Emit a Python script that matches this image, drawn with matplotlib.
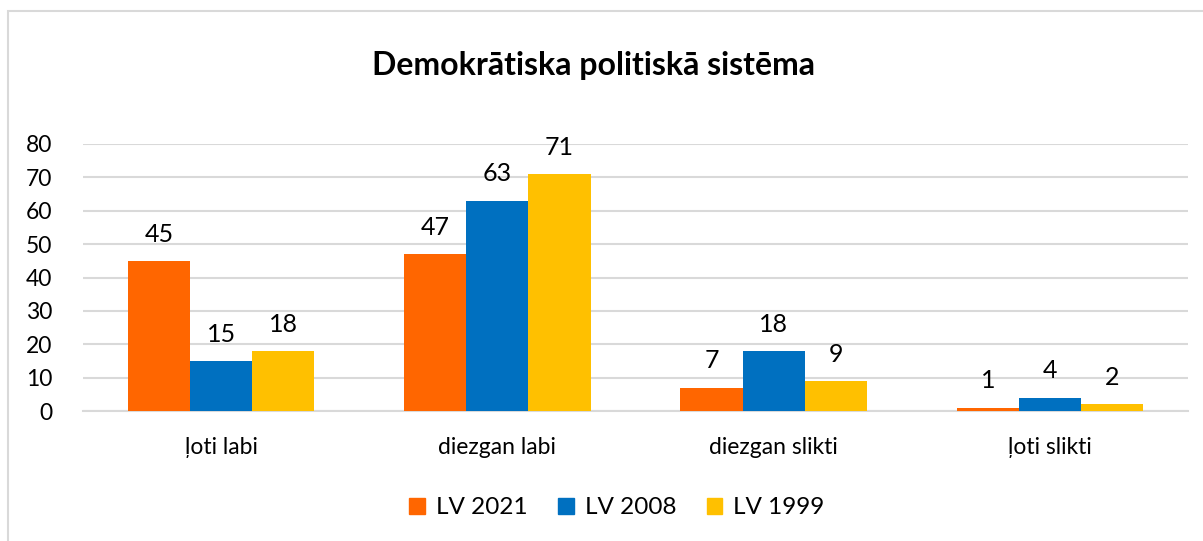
import matplotlib
matplotlib.use("Agg")
import matplotlib.pyplot as plt
import numpy as np
from matplotlib.patches import Rectangle

plt.rcParams['font.family'] = ['Lato', 'DejaVu Sans']

categories = ["ļoti labi", "diezgan labi", "diezgan slikti", "ļoti slikti"]
series_names = ["LV 2021", "LV 2008", "LV 1999"]
lv2021 = [45, 47, 7, 1]
lv2008 = [15, 63, 18, 4]
lv1999 = [18, 71, 9, 2]
colors = ["#FF6600", "#0070C0", "#FFC000"]
title = "Demokrātiska politiskā sistēma"
yticks = [0, 10, 20, 30, 40, 50, 60, 70, 80]

fig = plt.figure(figsize=(12.03, 5.41), dpi=100)
ax = fig.add_axes([83/1203, 1-411/541, (1188-83)/1203, (411-144)/541])

x = np.arange(len(categories))
w = 0.225
for i, (vals, name, c) in enumerate(zip([lv2021, lv2008, lv1999], series_names, colors)):
    bars = ax.bar(x + (i-1)*w, vals, w, color=c, label=name, zorder=3)
    for b, v in zip(bars, vals):
        ax.annotate(str(v), (b.get_x()+b.get_width()/2, v), xytext=(0, 11),
                    textcoords="offset points", ha="center", va="bottom", fontsize=18, color="#000000")

ax.set_xlim(-0.5, len(categories)-0.5)
ax.set_ylim(0, 80)
ax.set_yticks(yticks)
ax.set_xticks(x)
ax.set_xticklabels(categories)
ax.grid(axis='y', color="#D9D9D9", linewidth=1.5, zorder=0)
for s in ["top", "right", "left"]:
    ax.spines[s].set_visible(False)
ax.spines["bottom"].set_color("#D9D9D9")
ax.spines["bottom"].set_linewidth(1.5)
ax.tick_params(axis='both', length=0, labelsize=16.5, colors="#000000")
ax.tick_params(axis='y', pad=22)
ax.tick_params(axis='x', pad=19)

fig.text(594/1203, 1-66/541, title, ha="center", va="center", fontsize=23, fontweight="bold")

handles = [Rectangle((0, 0), 1, 1, color=c) for c in colors]
fig.legend(handles, series_names, loc="center", bbox_to_anchor=(617/1203, 1-508/541), ncol=3,
           frameon=False, fontsize=17.5, handlelength=0.65, handleheight=0.65, columnspacing=1.25, handletextpad=0.45)

# chart border
fig.add_artist(Rectangle((8/1203, -0.1), 1.2, 1-11/541+0.1, transform=fig.transFigure,
                         fill=False, edgecolor="#D9D9D9", linewidth=1.5))

fig.savefig("out.png", dpi=100)
